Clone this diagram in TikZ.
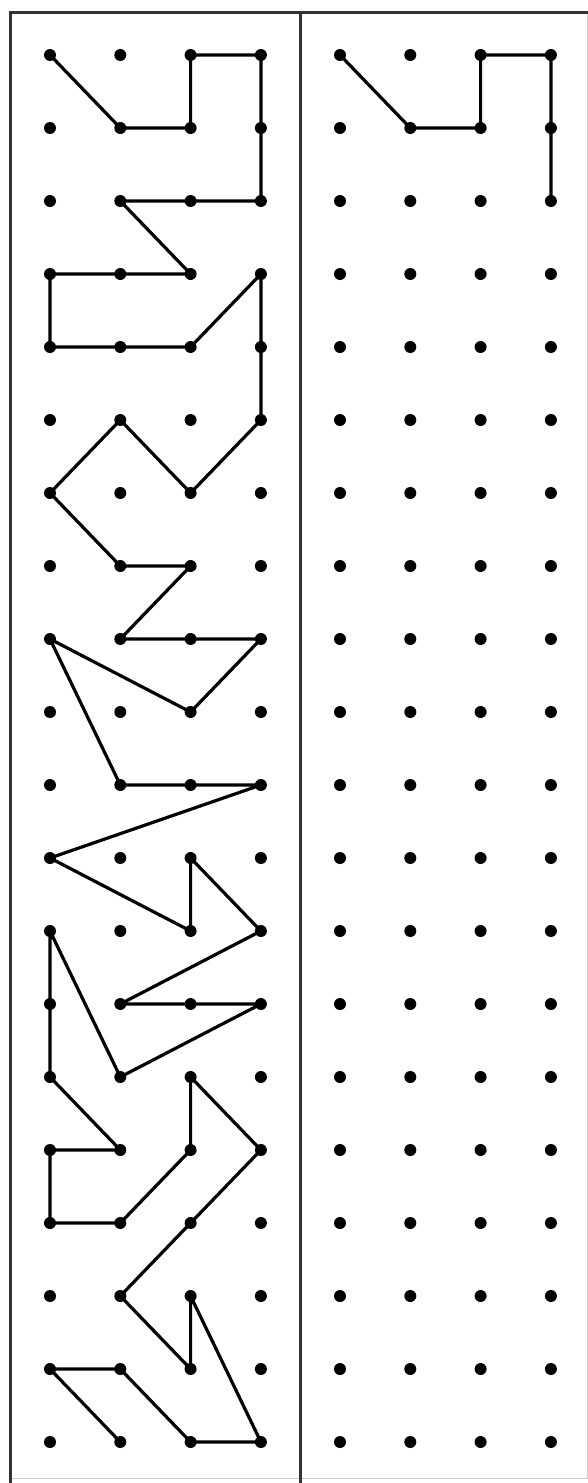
\documentclass[tikz,border=0pt]{standalone}
\usetikzlibrary{calc}

\begin{document}
\begin{tikzpicture}[
  x=1pt, y=-1pt,
  trail/.style={line width=3.2pt, line join=round, line cap=round},
  frame/.style={line width=3pt, draw=black!80},
  dotr/.store in=\dotr, dotr=6pt
]
  \useasboundingbox (0,0) rectangle (588,1483);

  % frame and divider
  \draw[line width=1pt, black!20] (587.5,12) -- (587.5,1478) -- (10,1478);
  \draw[frame] (10,1483) -- (10,12) -- (588,12);
  \draw[frame] (300,12) -- (300,1483);

  % dot grids
  \foreach \c in {0,...,3}
    \foreach \r in {0,...,19} {
      \coordinate (L-\c-\r) at ({50+70.3*\c},{55+73*\r});
      \coordinate (R-\c-\r) at ({340+70.3*\c},{55+73*\r});
    }

  % finished figure
  \draw[trail] (L-0-0) -- (L-1-1) -- (L-2-1) -- (L-2-0) -- (L-3-0) -- (L-3-2)
    -- (L-1-2) -- (L-2-3) -- (L-0-3) -- (L-0-4) -- (L-2-4) -- (L-3-3)
    -- (L-3-5) -- (L-2-6) -- (L-1-5) -- (L-0-6) -- (L-1-7) -- (L-2-7)
    -- (L-1-8) -- (L-3-8) -- (L-2-9) -- (L-0-8) -- (L-1-10) -- (L-3-10)
    -- (L-0-11) -- (L-2-12) -- (L-2-11) -- (L-3-12) -- (L-1-13) -- (L-3-13)
    -- (L-1-14) -- (L-0-12) -- (L-0-14) -- (L-1-15) -- (L-0-15) -- (L-0-16)
    -- (L-1-16) -- (L-2-15) -- (L-2-14) -- (L-3-15) -- (L-1-17) -- (L-2-18)
    -- (L-2-17) -- (L-3-19) -- (L-2-19) -- (L-1-18) -- (L-0-18) -- (L-1-19);

  % copy, just started
  \draw[trail] (R-0-0) -- (R-1-1) -- (R-2-1) -- (R-2-0) -- (R-3-0) -- (R-3-2);

  \foreach \c in {0,...,3}
    \foreach \r in {0,...,19} {
      \fill (L-\c-\r) circle (\dotr);
      \fill (R-\c-\r) circle (\dotr);
    }
\end{tikzpicture}
\end{document}
